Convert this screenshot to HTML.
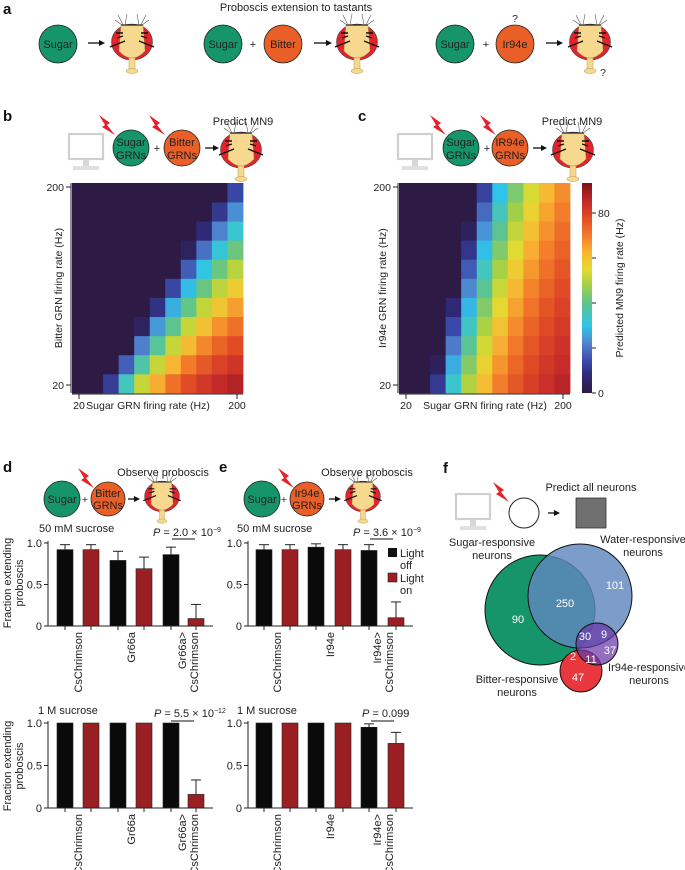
<!DOCTYPE html>
<html><head><meta charset="utf-8"><style>
html,body{margin:0;padding:0;background:#fff;}
svg{display:block;font-family:"Liberation Sans",Arial,sans-serif;}
.t{font-size:11px;fill:#222;}
.s{font-size:10.5px;fill:#222;}
.L{font-size:15px;font-weight:bold;fill:#111;}
.w{font-size:11px;fill:#fff;}
</style></head><body>
<svg id="S" width="685" height="870" viewBox="0 0 685 870" xmlns="http://www.w3.org/2000/svg">
<defs>
<g id="fly">
 <ellipse cx="0" cy="17" rx="20.5" ry="18" fill="#e3232c" stroke="#444" stroke-width="0.6"/>
 <path d="M-11,0 L11,0 L13,26 Q0,40 -13,26 Z" fill="#f6d88f" stroke="#b89a55" stroke-width="0.5"/>
 <line x1="-11" y1="0" x2="11" y2="0" stroke="#222" stroke-width="1.2"/>
 <path d="M-9,0 L-14,-10 M-7,0 L-5,-11 M-10,0 L-17,-5 M9,0 L14,-10 M7,0 L5,-11 M10,0 L17,-5" stroke="#555" stroke-width="0.6" fill="none"/>
 <path d="M-22,22 L-7,16 M22,22 L7,16 M-16,8 L-9,8 M16,8 L9,8 M-15,13 L-9,11 M15,13 L9,11" stroke="#111" stroke-width="1.4" fill="none"/>
 <rect x="-3" y="33" width="6" height="12" fill="#f6d88f" stroke="#b89a55" stroke-width="0.5"/>
 <ellipse cx="0" cy="46" rx="6" ry="2.5" fill="#f6d88f" stroke="#b89a55" stroke-width="0.5"/>
</g>
<polygon id="bolt" points="0,0 11,8 8,10 16,20 3,12 6,10" fill="#e8202a"/>
<g id="mon">
 <rect x="1" y="1" width="34" height="25" fill="#fff" stroke="#cfcfcf" stroke-width="2.2"/>
 <rect x="15" y="27" width="6" height="6" fill="#d8d8d8"/>
 <rect x="5" y="33" width="26" height="4" fill="#e0e0e0"/>
</g>
<linearGradient id="cb" x1="0" y1="1" x2="0" y2="0">
 <stop offset="0" stop-color="#2d1b45"/><stop offset="0.09" stop-color="#2f2a7a"/><stop offset="0.16" stop-color="#3c4fb0"/>
 <stop offset="0.24" stop-color="#4f86d0"/><stop offset="0.32" stop-color="#2ec5e8"/><stop offset="0.43" stop-color="#5ec48c"/>
 <stop offset="0.52" stop-color="#a8d043"/><stop offset="0.59" stop-color="#e4dc30"/><stop offset="0.67" stop-color="#f8b533"/>
 <stop offset="0.75" stop-color="#f27a2a"/><stop offset="0.84" stop-color="#e04a25"/><stop offset="0.91" stop-color="#c62a2a"/>
 <stop offset="1" stop-color="#7d1214"/>
</linearGradient>
</defs>

<text class="L" x="3" y="14">a</text>
<text class="t" x="296" y="11" text-anchor="middle">Proboscis extension to tastants</text>
<circle cx="58" cy="44" r="19" fill="#16956b" stroke="#222" stroke-width="0.8"/>
<text class="t" x="58" y="48" text-anchor="middle">Sugar</text>
<line x1="88" y1="43" x2="101" y2="43" stroke="#111" stroke-width="1.3"/><polygon points="105,43 99,40 99,46" fill="#111"/>
<use href="#fly" x="132" y="25"/>
<circle cx="223" cy="44" r="19" fill="#16956b" stroke="#222" stroke-width="0.8"/>
<text class="t" x="223" y="48" text-anchor="middle">Sugar</text>
<text class="t" x="253" y="48" text-anchor="middle">+</text>
<circle cx="283" cy="44" r="19" fill="#ea5f27" stroke="#222" stroke-width="0.8"/>
<text class="t" x="283" y="48" text-anchor="middle">Bitter</text>
<line x1="314" y1="43" x2="328" y2="43" stroke="#111" stroke-width="1.3"/><polygon points="332,43 326,40 326,46" fill="#111"/>
<use href="#fly" x="357" y="25"/>
<circle cx="455" cy="44" r="19" fill="#16956b" stroke="#222" stroke-width="0.8"/>
<text class="t" x="455" y="48" text-anchor="middle">Sugar</text>
<text class="t" x="486" y="48" text-anchor="middle" fill="#888">+</text>
<circle cx="515" cy="44" r="19" fill="#ea5f27" stroke="#222" stroke-width="0.8"/>
<text class="t" x="515" y="48" text-anchor="middle">Ir94e</text>
<text class="s" x="515" y="22" text-anchor="middle">?</text>
<line x1="546" y1="43" x2="559" y2="43" stroke="#111" stroke-width="1.3"/><polygon points="563,43 557,40 557,46" fill="#111"/>
<use href="#fly" x="590" y="25"/>
<text class="s" x="603" y="76" text-anchor="middle">?</text>

<text class="L" x="3" y="121">b</text>
<use href="#mon" x="68" y="133"/>
<use href="#bolt" x="99" y="115"/>
<use href="#bolt" x="149" y="115"/>
<circle cx="131" cy="148" r="18" fill="#16956b" stroke="#222" stroke-width="0.8"/>
<text class="t" x="131" y="146" text-anchor="middle">Sugar</text><text class="t" x="131" y="159" text-anchor="middle">GRNs</text>
<text class="t" x="157" y="152" text-anchor="middle">+</text>
<circle cx="182" cy="148" r="18" fill="#ea5f27" stroke="#222" stroke-width="0.8"/>
<text class="t" x="182" y="146" text-anchor="middle">Bitter</text><text class="t" x="182" y="159" text-anchor="middle">GRNs</text>
<line x1="205" y1="148" x2="215" y2="148" stroke="#111" stroke-width="1.3"/><polygon points="219,148 213,145 213,151" fill="#111"/>
<use href="#fly" x="241" y="133"/>
<text class="t" x="243" y="125" text-anchor="middle">Predict MN9</text>

<text class="L" x="358" y="121">c</text>
<use href="#mon" x="397" y="133"/>
<use href="#bolt" x="430" y="115"/>
<use href="#bolt" x="480" y="115"/>
<circle cx="461" cy="148" r="18" fill="#16956b" stroke="#222" stroke-width="0.8"/>
<text class="t" x="461" y="146" text-anchor="middle">Sugar</text><text class="t" x="461" y="159" text-anchor="middle">GRNs</text>
<text class="t" x="487" y="152" text-anchor="middle">+</text>
<circle cx="510" cy="148" r="18" fill="#ea5f27" stroke="#222" stroke-width="0.8"/>
<text class="t" x="510" y="146" text-anchor="middle">IR94e</text><text class="t" x="510" y="159" text-anchor="middle">GRNs</text>
<line x1="533" y1="148" x2="543" y2="148" stroke="#111" stroke-width="1.3"/><polygon points="547,148 541,145 541,151" fill="#111"/>
<use href="#fly" x="573" y="133"/>
<text class="t" x="572" y="125" text-anchor="middle">Predict MN9</text>

<g id="hb"></g><g id="hc"></g>
<g stroke="#222" stroke-width="1" fill="none">
 <path d="M71,183 V393 M66,187 H71 M66,385 H71 M72,394 H243 M79,394 V399 M237,394 V399"/>
 <path d="M398,183 V393 M393,187 H398 M393,385 H398 M399,394 H570 M406,394 V399 M563,394 V399"/>
 <path d="M592,213 H596 M592,258 H596 M592,303 H596 M592,348 H596 M592,393 H596"/>
</g>
<text class="s" x="64" y="191" text-anchor="end">200</text>
<text class="s" x="64" y="389" text-anchor="end">20</text>
<text class="s" x="79" y="409" text-anchor="middle">20</text>
<text class="s" x="148" y="409" text-anchor="middle">Sugar GRN firing rate (Hz)</text>
<text class="s" x="237" y="409" text-anchor="middle">200</text>
<text class="s" transform="translate(62,288) rotate(-90)" text-anchor="middle">Bitter GRN firing rate (Hz)</text>
<text class="s" x="391" y="191" text-anchor="end">200</text>
<text class="s" x="391" y="389" text-anchor="end">20</text>
<text class="s" x="406" y="409" text-anchor="middle">20</text>
<text class="s" x="485" y="409" text-anchor="middle">Sugar GRN firing rate (Hz)</text>
<text class="s" x="563" y="409" text-anchor="middle">200</text>
<text class="s" transform="translate(386,288) rotate(-90)" text-anchor="middle">Ir94e GRN firing rate (Hz)</text>
<rect x="582" y="183" width="10" height="210" fill="url(#cb)"/>
<text class="s" x="598" y="217">80</text>
<text class="s" x="598" y="397">0</text>
<text class="s" transform="translate(623,288) rotate(-90)" text-anchor="middle">Predicted MN9 firing rate (Hz)</text>

<text class="L" x="3" y="472">d</text>
<circle cx="62" cy="499" r="18" fill="#16956b" stroke="#222" stroke-width="0.8"/>
<text class="t" x="62" y="503" text-anchor="middle">Sugar</text>
<text class="s" x="85" y="503" text-anchor="middle">+</text>
<use href="#bolt" x="78" y="468"/>
<circle cx="108" cy="499" r="17" fill="#ea5f27" stroke="#222" stroke-width="0.8"/>
<text class="t" x="108" y="497" text-anchor="middle">Bitter</text><text class="t" x="108" y="509" text-anchor="middle">GRNs</text>
<line x1="128" y1="499" x2="136" y2="499" stroke="#111" stroke-width="1.3"/><polygon points="140,499 134,496 134,502" fill="#111"/>
<use href="#fly" transform="translate(162,482) scale(0.85)"/>
<text class="t" x="163" y="476" text-anchor="middle">Observe proboscis</text>
<text class="t" x="39" y="532">50 mM sucrose</text>
<text class="t" x="153" y="536"><tspan font-style="italic">P</tspan> = 2.0 × 10<tspan font-size="7" dy="-4">−9</tspan></text>
<line x1="172" y1="539" x2="195" y2="539" stroke="#111"/>

<text class="L" x="219" y="472">e</text>
<circle cx="262" cy="499" r="18" fill="#16956b" stroke="#222" stroke-width="0.8"/>
<text class="t" x="262" y="503" text-anchor="middle">Sugar</text>
<text class="s" x="284" y="503" text-anchor="middle">+</text>
<use href="#bolt" x="278" y="468"/>
<circle cx="307" cy="499" r="17" fill="#ea5f27" stroke="#222" stroke-width="0.8"/>
<text class="t" x="307" y="497" text-anchor="middle">Ir94e</text><text class="t" x="307" y="509" text-anchor="middle">GRNs</text>
<line x1="329" y1="499" x2="337" y2="499" stroke="#111" stroke-width="1.3"/><polygon points="341,499 335,496 335,502" fill="#111"/>
<use href="#fly" transform="translate(363,482) scale(0.85)"/>
<text class="t" x="367" y="476" text-anchor="middle">Observe proboscis</text>
<text class="t" x="237" y="532">50 mM sucrose</text>
<text class="t" x="353" y="536"><tspan font-style="italic">P</tspan> = 3.6 × 10<tspan font-size="7" dy="-4">−9</tspan></text>
<line x1="370" y1="539" x2="393" y2="539" stroke="#111"/>
<rect x="388" y="548" width="9" height="9" fill="#111"/>
<text class="t" x="400" y="557">Light</text><text class="t" x="400" y="569">off</text>
<rect x="388" y="573" width="9" height="9" fill="#9a1f22" stroke="#222" stroke-width="0.6"/>
<text class="t" x="400" y="582">Light</text><text class="t" x="400" y="594">on</text>

<text class="t" x="38" y="714">1 M sucrose</text>
<text class="t" x="154" y="717"><tspan font-style="italic">P</tspan> = 5.5 × 10<tspan font-size="7" dy="-4">−12</tspan></text>
<line x1="171" y1="721" x2="194" y2="721" stroke="#111"/>
<text class="t" x="237" y="714">1 M sucrose</text>
<text class="t" x="362" y="717"><tspan font-style="italic">P</tspan> = 0.099</text>
<line x1="371" y1="721" x2="394" y2="721" stroke="#111"/>

<g id="bars"></g>

<text class="t" transform="translate(11,583) rotate(-90)" text-anchor="middle">Fraction extending</text>
<text class="t" transform="translate(23,583) rotate(-90)" text-anchor="middle">proboscis</text>
<text class="t" transform="translate(11,766) rotate(-90)" text-anchor="middle">Fraction extending</text>
<text class="t" transform="translate(23,766) rotate(-90)" text-anchor="middle">proboscis</text>

<text class="L" x="443" y="473">f</text>
<use href="#mon" x="455" y="493"/>
<use href="#bolt" x="493" y="482"/>
<circle cx="524" cy="513" r="15" fill="#fff" stroke="#222" stroke-width="1"/>
<line x1="548" y1="513" x2="556" y2="513" stroke="#111" stroke-width="1.3"/><polygon points="560,513 554,510 554,516" fill="#111"/>
<rect x="576" y="498" width="30" height="30" fill="#707070" stroke="#333" stroke-width="0.8"/>
<text class="t" x="591" y="491" text-anchor="middle">Predict all neurons</text>
<text class="t" x="492" y="546" text-anchor="middle">Sugar-responsive</text>
<text class="t" x="492" y="559" text-anchor="middle">neurons</text>
<text class="t" x="643" y="543" text-anchor="middle">Water-responsive</text>
<text class="t" x="643" y="556" text-anchor="middle">neurons</text>
<circle cx="540" cy="610" r="55" fill="#16956b" stroke="#111" stroke-width="1"/>
<circle cx="581" cy="671" r="21" fill="#e8373d" stroke="#111" stroke-width="1"/>
<circle cx="580" cy="596" r="52" fill="#5f86bd" fill-opacity="0.82" stroke="#111" stroke-width="1"/>
<circle cx="597" cy="644" r="21" fill="#6a38a8" fill-opacity="0.72" stroke="#111" stroke-width="1"/>
<text class="w" x="565" y="607" text-anchor="middle">250</text>
<text class="w" x="518" y="623" text-anchor="middle">90</text>
<text class="w" x="615" y="589" text-anchor="middle">101</text>
<text class="w" x="585" y="640" text-anchor="middle">30</text>
<text class="w" x="604" y="638" text-anchor="middle">9</text>
<text class="w" x="610" y="654" text-anchor="middle">37</text>
<text class="w" x="573" y="660" text-anchor="middle">2</text>
<text class="w" x="591" y="663" text-anchor="middle">11</text>
<text class="w" x="578" y="681" text-anchor="middle">47</text>
<text class="t" x="649" y="671" text-anchor="middle">Ir94e-responsive</text>
<text class="t" x="649" y="684" text-anchor="middle">neurons</text>
<text class="t" x="517" y="683" text-anchor="middle">Bitter-responsive</text>
<text class="t" x="517" y="696" text-anchor="middle">neurons</text>
</svg>
<script>
(function(){
var NS="http://www.w3.org/2000/svg";
function el(p,t,a){var e=document.createElementNS(NS,t);for(var k in a)e.setAttribute(k,a[k]);p.appendChild(e);return e;}
var stops=[[0,"2d1b45"],[8,"2f2a7a"],[15,"3c4fb0"],[22,"4f86d0"],[30,"2ec5e8"],[40,"5ec48c"],[48,"a8d043"],[55,"e4dc30"],[62,"f8b533"],[70,"f27a2a"],[78,"e04a25"],[85,"c62a2a"],[93,"7d1214"]];
function hx(s){return [parseInt(s.substr(0,2),16),parseInt(s.substr(2,2),16),parseInt(s.substr(4,2),16)];}
function cmap(v){v=Math.max(0,Math.min(93,v));for(var i=1;i<stops.length;i++){if(v<=stops[i][0]){var a=stops[i-1],b=stops[i],t=(v-a[0])/(b[0]-a[0]);var A=hx(a[1]),B=hx(b[1]);return "rgb("+[0,1,2].map(function(k){return Math.round(A[k]+(B[k]-A[k])*t)}).join(",")+")";}}return "#7d1214";}
function heat(id,x0,x1,slope,sc,dec){var g=document.getElementById(id);var y0=183,y1=393,cw=(x1-x0)/11,ch=(y1-y0)/11;
 for(var i=0;i<11;i++)for(var j=0;j<11;j++){var d=i-1.6-slope*j;var s=sc+dec*j;var v=d>0?93*(1-Math.exp(-d/s))*(1-0.025*j*dec*4):0;
  el(g,"rect",{x:(x0+i*cw).toFixed(2),y:(y1-(j+1)*ch).toFixed(2),width:(cw+0.4).toFixed(2),height:(ch+0.4).toFixed(2),fill:cmap(v)});}}
heat("hb",72,243,0.74,3,0.2);
heat("hc",399,570,0.28,3.2,0.06);
var B=document.getElementById("bars");
function chart(ax,xend,ytop,ybot,xs,h,e,labels,labY){
 var H=ybot-ytop;
 for(var k=0;k<6;k++){var y=ybot-h[k]*H;var cx=xs[k]+8;
  if(e[k]>h[k]){el(B,"line",{x1:cx,y1:y,x2:cx,y2:ybot-e[k]*H,stroke:"#222","stroke-width":1});el(B,"line",{x1:cx-5,y1:ybot-e[k]*H,x2:cx+5,y2:ybot-e[k]*H,stroke:"#222","stroke-width":1});}
  el(B,"rect",{x:xs[k],y:y,width:16,height:ybot-y,fill:k%2?"#9a1f22":"#0a0a0a",stroke:"#222","stroke-width":0.6});
  el(B,"line",{x1:cx,y1:ybot,x2:cx,y2:ybot+4,stroke:"#222","stroke-width":1});}
 el(B,"path",{d:"M"+ax+","+(ytop-2)+" V"+ybot+" H"+xend+" M"+(ax-4)+","+ytop+" H"+ax+" M"+(ax-4)+","+(ytop+H/2)+" H"+ax+" M"+(ax-4)+","+ybot+" H"+ax,stroke:"#222",fill:"none","stroke-width":1});
 [["1.0",ytop],["0.5",ytop+H/2],["0",ybot]].forEach(function(t){var tx=el(B,"text",{x:ax-6,y:t[1]+4,"text-anchor":"end","class":"t"});tx.textContent=t[0];});
 labels.forEach(function(L){var tx=el(B,"text",{transform:"translate("+(L[0]+4)+","+labY+") rotate(-90)","text-anchor":"end","class":"t"});tx.textContent=L[1];});
}
var xd=[57,83,110,136,163,188], xe=[256,282,308,335,361,388];
var ld=[[78,"CsChrimson"],[131,"Gr66a"],[182,"Gr66a>"],[194,"CsChrimson"]];
var le=[[277,"CsChrimson"],[330,"Ir94e"],[377,"Ir94e>"],[389,"CsChrimson"]];
chart(48,213,543,626,xd,[.92,.92,.79,.69,.86,.09],[.98,.98,.90,.83,.95,.26],ld,632);
chart(248,413,543,626,xe,[.92,.92,.95,.92,.91,.10],[.98,.98,.99,.98,.98,.29],le,632);
chart(48,213,723,808,xd,[1,1,1,1,1,.16],[1,1,1,1,1,.33],ld,814);
chart(248,413,723,808,xe,[1,1,1,1,.95,.76],[1,1,1,1,.99,.89],le,814);
})();
</script>
</body></html>
